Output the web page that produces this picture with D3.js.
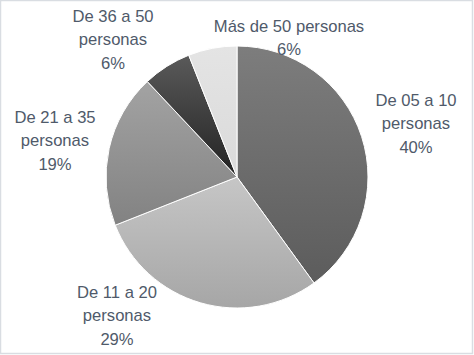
<!DOCTYPE html>
<html><head><meta charset="utf-8">
<script src="https://cdn.jsdelivr.net/npm/d3@7"></script>
<style>html,body{margin:0;padding:0;background:#fff;}svg{display:block;}</style>
</head><body>
<script>
const categories = ["De 05 a 10 personas", "De 11 a 20 personas", "De 21 a 35 personas", "De 36 a 50 personas", "Más de 50 personas"];
const values = [40, 29, 19, 6, 6];
const labelLines = [
  ["De 05 a 10", "personas", "40%"],
  ["De 11 a 20", "personas", "29%"],
  ["De 21 a 35", "personas", "19%"],
  ["De 36 a 50", "personas", "6%"],
  ["Más de 50 personas", "6%"]
];
const colorsTop = ["#7d7d7d", "#c6c6c6", "#a3a3a3", "#5a5a5a", "#e4e4e4"];
const colorsBottom = ["#5c5c5c", "#a6a6a6", "#828282", "#222222", "#dadada"];
const labelPos = [[416, 100], [117, 292], [55, 117], [113, 16], [289, 26]];

const W = 474, H = 355;
const svg = d3.select("body").append("svg").attr("width", W).attr("height", H);
svg.append("rect").attr("x", 0.5).attr("y", 0.5).attr("width", W - 2).attr("height", H - 2)
  .attr("fill", "#fff").attr("stroke", "#d9dde2").attr("stroke-width", 1.5);

const defs = svg.append("defs");
values.forEach((v, i) => {
  const g = defs.append("linearGradient").attr("id", "g" + i).attr("x1", 0).attr("y1", 0).attr("x2", 0).attr("y2", 1);
  g.append("stop").attr("offset", "0%").attr("stop-color", colorsTop[i]);
  g.append("stop").attr("offset", "100%").attr("stop-color", colorsBottom[i]);
});

const cx = 237, cy = 177, r = 131;
const pie = d3.pie().sort(null).value(d => d);
const arc = d3.arc().innerRadius(0).outerRadius(r);
const g = svg.append("g").attr("transform", `translate(${cx},${cy})`);
g.selectAll("path").data(pie(values)).join("path")
  .attr("d", arc)
  .attr("fill", (d, i) => `url(#g${i})`)
  .attr("stroke", "#fff").attr("stroke-width", 1);

const lh = 23.5;
labelLines.forEach((lines, i) => {
  const t = svg.append("text").attr("text-anchor", "middle")
    .attr("font-family", "Liberation Sans, Arial, sans-serif").attr("font-size", 16.6)
    .attr("fill", "#4f5a6a");
  lines.forEach((s, j) => {
    t.append("tspan").attr("x", labelPos[i][0]).attr("y", labelPos[i][1] + j * lh)
      .attr("dy", "0.35em").text(s);
  });
});
</script>
</body></html>
